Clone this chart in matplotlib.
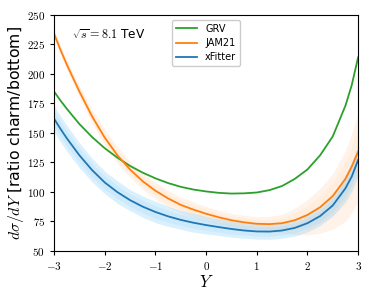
import numpy as np
import matplotlib
matplotlib.use('Agg')
import matplotlib.pyplot as plt
from matplotlib.ticker import FuncFormatter

plt.rcParams['mathtext.fontset'] = 'cm'

# rapidity grid and curves
rapidity = [-3.0, -2.875, -2.75, -2.5, -2.25, -2.0, -1.75, -1.5, -1.25, -1.0, -0.75, -0.5, -0.25,
            0.0, 0.25, 0.5, 0.75, 1.0, 1.25, 1.5, 1.75, 2.0, 2.25, 2.5, 2.75, 2.875, 3.0]

grv = [185, 177.5, 170.5, 157.5, 146.5, 137, 129, 122, 116.3, 111.5, 107.5, 104.3, 102,
       100.4, 99.2, 98.6, 98.8, 99.5, 101.5, 105, 111, 119, 131, 147, 173, 190.5, 214]

jam21 = [234, 220.5, 208, 185, 164, 146, 131, 119, 109, 101, 94.5, 89, 85,
         81.5, 78.5, 76, 74.2, 73, 72.7, 73.5, 76, 80.5, 87, 96.5, 111, 121.5, 134]
jam21_up = [3, 3.5, 4, 5, 6, 7, 7, 7, 7, 7, 7, 6.5, 6.5,
            6, 6, 6, 6, 6, 6.5, 7.5, 10, 13, 16, 19, 24, 28, 33]
jam21_dn = [3, 3.5, 4, 5, 6, 7, 7, 7, 7, 7, 7, 6.5, 6.5,
            6, 6, 6, 6, 6, 7, 8, 12, 17, 22, 28, 36, 39, 42]

xfitter = [162, 153.5, 145.5, 131, 118.5, 108, 99.8, 93, 87.5, 83, 79.3, 76.3, 73.9,
           71.9, 70.2, 68.6, 67.3, 66.5, 66.4, 67.3, 69.5, 73.5, 79.5, 88.5, 103, 113, 127]
xfitter_err = [11, 11, 11, 10.5, 10, 9.5, 9.5, 9, 9, 9, 8.5, 8, 8,
               7.5, 7, 7, 6.5, 6.5, 6.5, 6.5, 7, 7.5, 8, 9, 11, 12, 13]

y = np.array(rapidity)
g = np.array(grv)
j = np.array(jam21)
ju = np.array(jam21_up)
jd = np.array(jam21_dn)
x = np.array(xfitter)
xe = np.array(xfitter_err)

fig = plt.figure(figsize=(3.73, 2.98), dpi=100)
ax = fig.add_axes([0.145, 0.158, 0.815, 0.792])

# uncertainty bands, outer and inner shade
ax.fill_between(y, j - jd, j + ju, color='#ff7f0e', alpha=0.09, lw=0)
ax.fill_between(y, j - 0.6 * jd, j + 0.6 * ju, color='#ff7f0e', alpha=0.05, lw=0)
ax.fill_between(y, x - xe, x + xe, color='#87cefa', alpha=0.30, lw=0)
ax.fill_between(y, x - 0.6 * xe, x + 0.6 * xe, color='#87cefa', alpha=0.15, lw=0)

ax.plot(y, g, color='#2ca02c', lw=1.3, label='GRV')
ax.plot(y, j, color='#ff7f0e', lw=1.3, label='JAM21')
ax.plot(y, x, color='#1f77b4', lw=1.3, label='xFitter')

ax.set_xlim(-3, 3)
ax.set_ylim(50, 250)
ax.set_yticks([50, 75, 100, 125, 150, 175, 200, 225, 250])
ax.xaxis.set_major_formatter(FuncFormatter(lambda v, p: r'$%g$' % v))
ax.yaxis.set_major_formatter(FuncFormatter(lambda v, p: r'$%g$' % v))
ax.tick_params(labelsize=8, length=3, width=0.8)

ax.set_xlabel(r'$Y$', fontsize=12, labelpad=1)
ax.set_ylabel(r'$d\sigma/dY$ [ratio charm/bottom]', fontsize=11.3, labelpad=0.5)

ax.text(0.06, 0.9, r'$\sqrt{s} = 8.1$ TeV', transform=ax.transAxes, fontsize=8.7)

ax.legend(loc='upper center', fontsize=7, handlelength=2.2, borderpad=0.4,
          labelspacing=0.45, framealpha=1)

plt.savefig('out.png', dpi=100)
